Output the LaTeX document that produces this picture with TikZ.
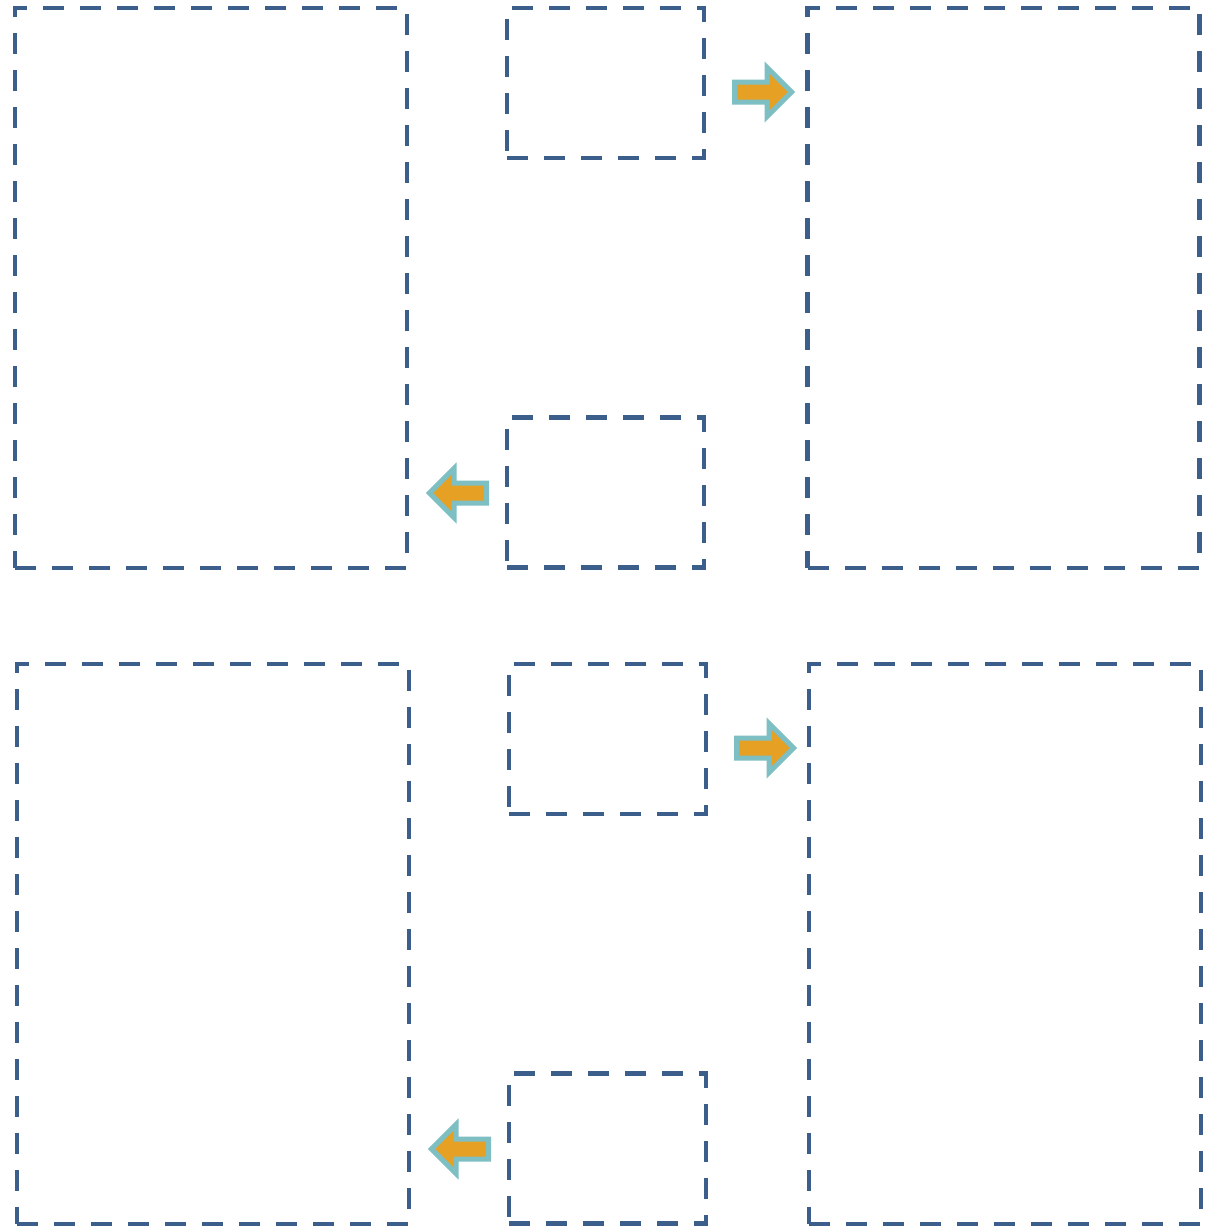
\documentclass[tikz,border=0pt]{standalone}
\usepackage{xcolor}
\usepackage{tikz}
\usetikzlibrary{shapes.arrows}

\definecolor{boxblue}{HTML}{3B5E8B}
\definecolor{arrowteal}{HTML}{7DBFC3}
\definecolor{arroworange}{HTML}{E6A023}

\begin{document}
\begin{tikzpicture}[
  x=1pt, y=-1pt,
  frame/.style={draw=boxblue, line width=4.5pt, dash pattern=on 21pt off 16pt,
                inner sep=0pt, minimum width=392pt, minimum height=560pt},
  small/.style={frame, minimum width=197pt, minimum height=150pt},
  blockarrow/.style={single arrow, draw=arrowteal, fill=arroworange, line width=5pt,
                     inner sep=7.5pt, minimum width=44pt, minimum height=57pt,
                     single arrow head extend=14.5pt}
]
  \useasboundingbox (0,0) rectangle (1209,1232);
  % top row
  \node[frame] (srcA)  at (211,    288)   {};
  \node[small] (inA)   at (605.5,  83)    {};
  \node[small] (outA)  at (605.5,  492.5) {};
  \node[frame] (dstA)  at (1003.5, 288)   {};
  \node[blockarrow] (pushA) at (758, 92)  {};
  \node[blockarrow, shape border rotate=180] (pullA) at (463, 493) {};
  % bottom row
  \node[frame] (srcB)  at (213,    944)    {};
  \node[small] (inB)   at (607.5,  739)    {};
  \node[small] (outB)  at (607.5,  1148.5) {};
  \node[frame] (dstB)  at (1005,   944)    {};
  \node[blockarrow] (pushB) at (760, 748)  {};
  \node[blockarrow, shape border rotate=180] (pullB) at (465, 1149) {};
\end{tikzpicture}
\end{document}
